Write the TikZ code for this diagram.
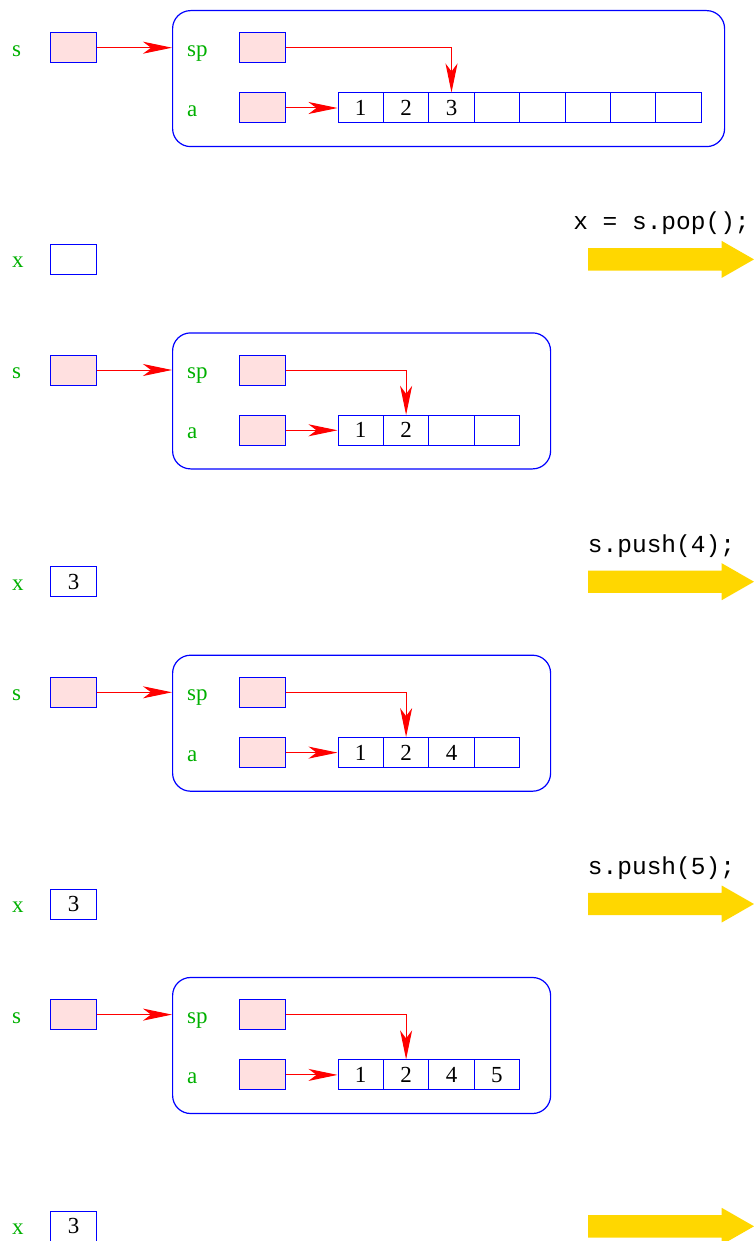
\documentclass[tikz,border=0pt]{standalone}
\usepackage{fontspec}
\setmainfont{Liberation Serif}
\setmonofont{Liberation Mono}
\usetikzlibrary{arrows.meta}
\definecolor{lblgreen}{RGB}{0,176,0}
\definecolor{boxpink}{RGB}{255,224,224}
\definecolor{arrowgold}{RGB}{255,215,0}
\begin{document}
\begin{tikzpicture}[x=1pt,y=-1pt,
  cell/.style={draw=blue, line width=1pt, minimum width=45.4pt, minimum height=30pt, inner sep=0pt, font=\fontsize{23}{25}\selectfont},
  ptrbox/.style={cell, fill=boxpink},
  lbl/.style={text=lblgreen, font=\fontsize{23}{25}\selectfont, inner sep=0pt, anchor=base west},
  ptr/.style={red, line width=1pt, -{Stealth[length=29pt,width=12pt,inset=8pt]}},
  frame/.style={draw=blue, line width=1.2pt, rounded corners=18pt, inner sep=0pt},
  code/.style={font=\fontsize{24.5}{26}\selectfont\ttfamily, inner sep=0pt},
  bigarrow/.style={fill=arrowgold},
]
\useasboundingbox (0,0) rectangle (754,1241);
\foreach \k/\ncell/\vals/\ptr/\rx/\xv in {0/8/{1,2,3}/3/724/{}, 1/4/{1,2}/2/550/3, 2/4/{1,2,4}/2/550/3, 3/4/{1,2,4,5}/2/550/3}{
  \pgfmathsetmacro{\yb}{47.7+322.3*\k}
  \pgfmathsetmacro{\yx}{\yb+211.7}
  \pgfmathsetmacro{\fw}{\rx-172}
  % stack frame
  \node[frame, minimum width=\fw pt, minimum height=136pt, anchor=north west] (st\k) at (172,\yb-37.7) {};
  \node[lbl] (sl\k) at (12,\yb+8.5) {s};
  \node[ptrbox] (s\k) at (73.5,\yb) {};
  \node[lbl] (spl\k) at (187,\yb+8.5) {sp};
  \node[ptrbox] (psp\k) at (262.5,\yb) {};
  \node[lbl] (al\k) at (187,\yb+68.8) {a};
  \node[ptrbox] (pa\k) at (262.5,\yb+60.3) {};
  \foreach \i in {1,...,\ncell}{
    \node[cell] (c\k-\i) at ({338+45.4*(\i-0.5)},\yb+60.3) {};
  }
  \foreach \v [count=\i] in \vals{
    \node[font=\fontsize{23}{25}\selectfont, inner sep=0pt] (v\k-\i) at (c\k-\i) {\v};
  }
  \draw[ptr] (s\k.east) -- (s\k.east -| st\k.west);
  \draw[ptr] (pa\k.east) -- (c\k-1.west);
  \draw[ptr] (psp\k.east) -| (c\k-\ptr.north);
  % x variable
  \node[lbl] (xl\k) at (12,\yx+8.5) {x};
  \node[cell] (x\k) at (73.5,\yx) {\xv};
  % transition arrow
  \coordinate (ar\k) at (588,\yx);
  \fill[bigarrow] (ar\k) ++(0,-11.2) -- ++(133.7,0) -- ++(0,-7.3) -- ++(32.3,18.5) -- ++(-32.3,18.5) -- ++(0,-7.3) -- ++(-133.7,0) -- cycle;
}
\node[code] (code0) at (661.5,223.5) {x = s.pop();};
\node[code] (code1) at (661.5,545.7) {s.push(4);};
\node[code] (code2) at (661.5,868) {s.push(5);};
\end{tikzpicture}
\end{document}
